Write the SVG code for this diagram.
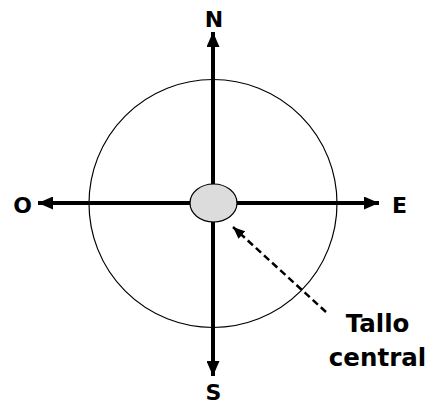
<svg xmlns="http://www.w3.org/2000/svg" width="430" height="404" viewBox="0 0 430 404">
<style>
.lbl{font-family:"DejaVu Sans",Verdana,sans-serif;font-weight:bold;fill:#000;text-anchor:middle}
.axis{stroke:#000;stroke-width:4;fill:none}
.dash{stroke:#000;stroke-width:2.5;stroke-dasharray:7,4;fill:none}
</style>
<defs>
<marker id="ah" viewBox="0 0 15 13" refX="15" refY="6.5" markerWidth="15" markerHeight="13" markerUnits="userSpaceOnUse" orient="auto">
<path d="M0,0 L15,6.5 L0,13 Z" fill="#000"/>
</marker>
<marker id="ahs" viewBox="0 0 12 10" refX="12" refY="5" markerWidth="12" markerHeight="10" markerUnits="userSpaceOnUse" orient="auto">
<path d="M0,0 L12,5 L0,10 Z" fill="#000"/>
</marker>
</defs>
<g id="circle"><circle cx="213" cy="203.5" r="124" fill="none" stroke="#000" stroke-width="1.2"/></g>
<g id="connectors">
<line class="axis" x1="213" y1="203" x2="213" y2="32" marker-end="url(#ah)"/>
<line class="axis" x1="213" y1="203" x2="213" y2="376" marker-end="url(#ah)"/>
<line class="axis" x1="213" y1="203" x2="38" y2="203" marker-end="url(#ah)"/>
<line class="axis" x1="213" y1="203" x2="379" y2="203" marker-end="url(#ah)"/>
<line class="dash" x1="326" y1="312" x2="233" y2="227" marker-end="url(#ahs)"/>
</g>
<g id="tallo"><ellipse cx="213.5" cy="203" rx="23.5" ry="19" fill="#dcdcdc" stroke="#000" stroke-width="1.2"/></g>
<g id="labels">
<text class="lbl" x="214" y="27" font-size="22">N</text>
<text class="lbl" x="22.5" y="213" font-size="22">O</text>
<text class="lbl" x="399.5" y="213" font-size="22">E</text>
<text class="lbl" x="213.5" y="400" font-size="22">S</text>
<text class="lbl" x="377.5" y="332" font-size="24.5">Tallo</text>
<text class="lbl" x="377.5" y="366" font-size="24.5">central</text>
</g>
</svg>
